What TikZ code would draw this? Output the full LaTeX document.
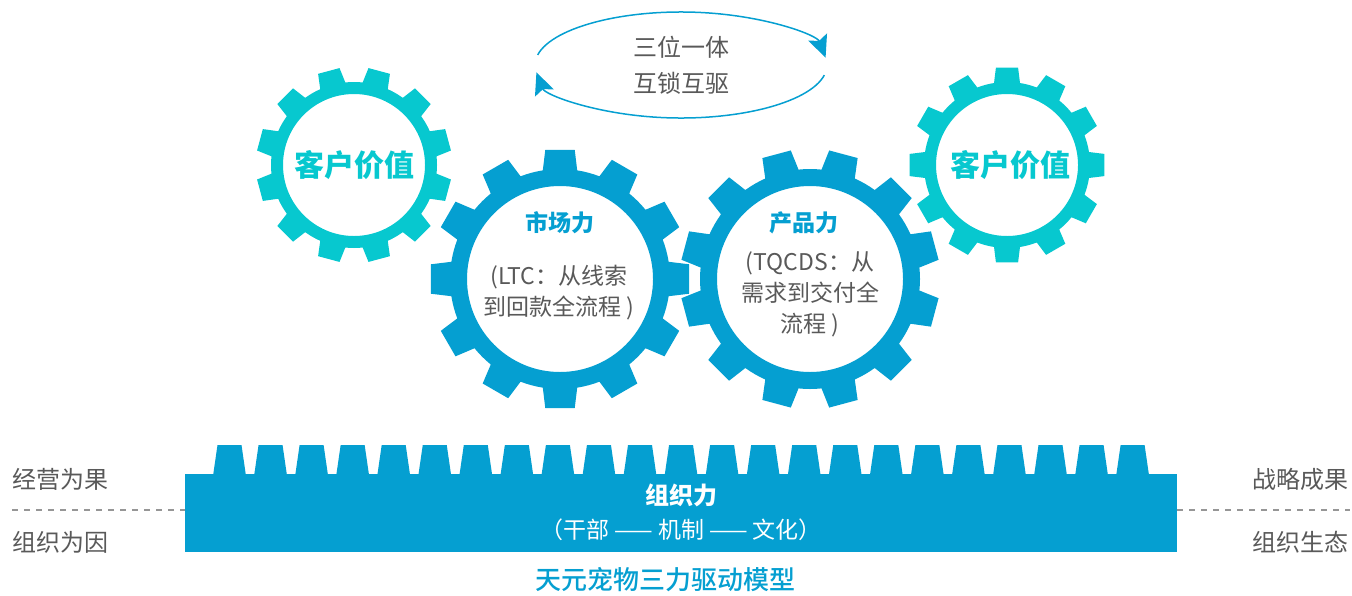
\documentclass[tikz,border=0pt]{standalone}
\usepackage{fontspec}
\setmainfont{Noto Sans CJK SC}
\newfontfamily\cjkmedium{Noto Sans CJK SC}[UprightFont={* Medium}]
\usepackage{tikz}
\usetikzlibrary{arrows.meta,positioning,calc}
\definecolor{tycyan}{RGB}{7,200,207}
\definecolor{tyblue}{RGB}{5,159,209}
\definecolor{tygray}{RGB}{89,89,89}
\definecolor{tydash}{RGB}{150,150,150}
\tikzstyle{arrow} = [line width=0.75pt,-{Stealth[length=11pt,width=10pt,inset=2pt]},color=tyblue]
\tikzstyle{valuelabel} = [text=tycyan, font=\fontsize{15}{18}\selectfont\bfseries]
\tikzstyle{forcelabel} = [text=tyblue, font=\fontsize{11.5}{14}\selectfont\bfseries]
\tikzstyle{notelabel} = [text=tygray, align=center, font=\fontsize{11.5}{15.5}\selectfont]
\tikzstyle{looplabel} = [text=tygray, font=\fontsize{12}{14}\selectfont]
\tikzstyle{sidelabel} = [text=tygray, font=\fontsize{12}{14}\selectfont, inner sep=0pt]
\tikzstyle{sideline} = [dashed, color=tydash, line width=0.6pt]
\tikzstyle{rackbox} = [rectangle, fill=tyblue, minimum width=496pt, minimum height=39pt, inner sep=0pt]
\tikzstyle{racktitle} = [text=white, font=\fontsize{12}{14}\selectfont\bfseries]
\tikzstyle{racknote} = [text=white, font=\fontsize{11.5}{14}\selectfont]
\tikzstyle{modeltitle} = [text=tyblue, font=\fontsize{13}{15}\selectfont\cjkmedium]
% gear: centre, tip radius, root radius, hole radius, first tooth angle, colour
\newcommand{\drawgear}[6]{%
  \fill[#6, even odd rule, shift={(#1)}] (#5-9:#3)
    \foreach \tooth in {0,...,11}{ -- (#5+30*\tooth-6.5:#2) -- (#5+30*\tooth+6.5:#2) -- (#5+30*\tooth+9:#3)
      arc[start angle=#5+30*\tooth+9, end angle=#5+30*\tooth+21, radius=#3] } -- cycle
    (0,0) circle[radius=#4];}

\begin{document}
\begin{tikzpicture}[x=0.5pt, y=-0.5pt]
\useasboundingbox (0,0) rectangle (1352,595);

% Top loop: interlocking
\coordinate (loop) at (681,65);
\draw[arrow] ([shift={(191:146 and 53)}]loop) arc[start angle=191, end angle=352, x radius=146, y radius=53];
\draw[arrow] ([shift={(11:146 and 53)}]loop) arc[start angle=11, end angle=172, x radius=146, y radius=53];
\node[looplabel] (loopA) at (681,47) {三位一体};
\node[looplabel] (loopB) at (681,83) {互锁互驱};

% Gears
\coordinate (cvL) at (354,165);
\coordinate (mkt) at (560,279);
\coordinate (prd) at (810,279);
\coordinate (cvR) at (1007,165);
\drawgear{cvL}{98}{83}{71}{15}{tycyan}
\drawgear{mkt}{130}{110}{93}{0}{tyblue}
\drawgear{prd}{130}{110}{93}{15}{tyblue}
\drawgear{cvR}{98}{83}{71}{0}{tycyan}

\node[valuelabel] (cvLtext) at (cvL) {客户价值};
\node[valuelabel] (cvRtext) at (1010,165) {客户价值};
\node[forcelabel] (mkttitle) at (560,223) {市场力};
\node[notelabel] (mktnote) at (559,293) {(LTC：从线索\\到回款全流程 )};
\node[forcelabel] (prdtitle) at (804,223) {产品力};
\node[notelabel] (prdnote) at (810,294) {(TQCDS：从\\需求到交付全\\流程 )};

% Rack: organisation
\node[rackbox] (rack) at (681,513) {};
\foreach \i [evaluate=\i as \tx using 229.5+41.05*\i] in {0,...,22}
  \fill[tyblue] (\tx-16.5,476) -- (\tx-12,445) -- (\tx+12,445) -- (\tx+16.5,476) -- cycle;
\node[racktitle] (orgtitle) at (681,495) {组织力};
\node[racknote] (orgnote) at (681,530) {（干部 —— 机制 —— 文化）};

% Side labels
\node[sidelabel, anchor=west] (resultL) at (12,479) {经营为果};
\node[sidelabel, anchor=west] (causeL) at (12,542) {组织为因};
\node[sidelabel, anchor=east] (resultR) at (1349,479) {战略成果};
\node[sidelabel, anchor=east] (causeR) at (1349,542) {组织生态};
\coordinate (ldash) at (12,510);
\coordinate (rdash) at (1350,510);
\draw[sideline] (ldash) -- (ldash -| rack.west);
\draw[sideline] (rack.east |- rdash) -- (rdash);

\node[modeltitle] (model) at (665,580) {天元宠物三力驱动模型};
\end{tikzpicture}
\end{document}
